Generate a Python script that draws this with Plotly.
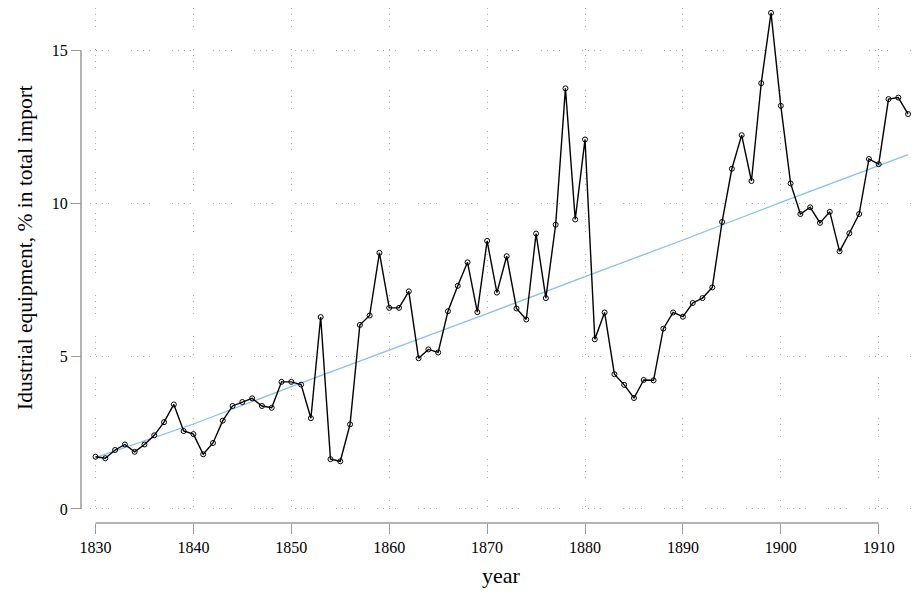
import plotly.graph_objects as go

years = list(range(1830, 1914))
share = [1.71, 1.66, 1.93, 2.11, 1.87, 2.11, 2.41, 2.84, 3.42, 2.55,
         2.45, 1.79, 2.16, 2.89, 3.37, 3.50, 3.62, 3.37, 3.31, 4.16,
         4.16, 4.07, 2.97, 6.28, 1.63, 1.56, 2.77, 6.02, 6.33, 8.38,
         6.58, 6.58, 7.12, 4.93, 5.22, 5.12, 6.47, 7.30, 8.07, 6.44,
         8.77, 7.08, 8.27, 6.56, 6.20, 9.01, 6.90, 9.30, 13.76, 9.47,
         12.09, 5.55, 6.43, 4.41, 4.06, 3.63, 4.22, 4.21, 5.90, 6.43,
         6.29, 6.74, 6.90, 7.25, 9.39, 11.13, 12.23, 10.73, 13.93, 16.23,
         13.19, 10.65, 9.65, 9.87, 9.36, 9.72, 8.43, 9.02, 9.65, 11.45,
         11.28, 13.41, 13.46, 12.92]

trend_years = [1830, 1840, 1850, 1860, 1870, 1880, 1890, 1900, 1910, 1913]
trend_vals = [1.68, 2.78, 4.00, 5.19, 6.39, 7.60, 8.80, 10.03, 11.24, 11.59]

x_ticks = [1830, 1840, 1850, 1860, 1870, 1880, 1890, 1900, 1910]
y_ticks = [0, 5, 10, 15]

FONT = "Liberation Serif"
GRID_DASH = "1px,5px,1px,5px,1px,5px,1px,22px"
AXIS_COL = "#9a9a9a"

fig = go.Figure()
fig.add_trace(go.Scatter(x=trend_years, y=trend_vals, mode="lines",
                         line=dict(color="#87C1EC", width=1.3),
                         hoverinfo="skip", showlegend=False))
fig.add_trace(go.Scatter(x=years, y=share, mode="lines+markers",
                         line=dict(color="black", width=1.4),
                         marker=dict(symbol="circle-open", size=5, color="black",
                                     line=dict(width=1, color="black")),
                         showlegend=False))

fig.update_layout(
    width=913, height=588,
    margin=dict(l=73, r=4, t=0, b=73, autoexpand=False),
    paper_bgcolor="white", plot_bgcolor="white",
    font=dict(family=FONT, size=16, color="black"),
    xaxis=dict(domain=[0.0108, 1], range=[1829.44, 1913.91],
               anchor="free", position=0, automargin=False,
               tickvals=x_ticks, ticks="outside", ticklen=10,
               tickcolor=AXIS_COL, tickwidth=1,
               showline=False, zeroline=False,
               showgrid=True, gridcolor="#b0b0b0", gridwidth=1,
               griddash=GRID_DASH,
               tickfont=dict(family=FONT, size=16, color="black")),
    yaxis=dict(domain=[0.0214, 1], range=[-0.098, 16.39],
               anchor="free", position=0, automargin=False,
               tickvals=y_ticks, ticks="outside", ticklen=10,
               tickcolor=AXIS_COL, tickwidth=1,
               showline=False, zeroline=False,
               showgrid=True, gridcolor="#b0b0b0", gridwidth=1,
               griddash=GRID_DASH,
               tickfont=dict(family=FONT, size=16, color="black")),
    shapes=[
        dict(type="line", xref="paper", yref="y", x0=0, x1=0, y0=0, y1=15,
             line=dict(color=AXIS_COL, width=1.5)),
        dict(type="line", xref="x", yref="paper", x0=1830, x1=1910, y0=0, y1=0,
             line=dict(color=AXIS_COL, width=1.5)),
    ],
    annotations=[
        dict(text="year", xref="x", yref="paper", x=1871.5, y=-0.101,
             showarrow=False, font=dict(family=FONT, size=22, color="black"),
             xanchor="center", yanchor="middle"),
        dict(text="Idustrial equipment, % in total import", xref="paper", yref="y",
             x=-0.067, y=8.57, textangle=-90, showarrow=False,
             font=dict(family=FONT, size=21.5, color="black"),
             xanchor="center", yanchor="middle"),
    ],
)

fig.write_html("out.html")
